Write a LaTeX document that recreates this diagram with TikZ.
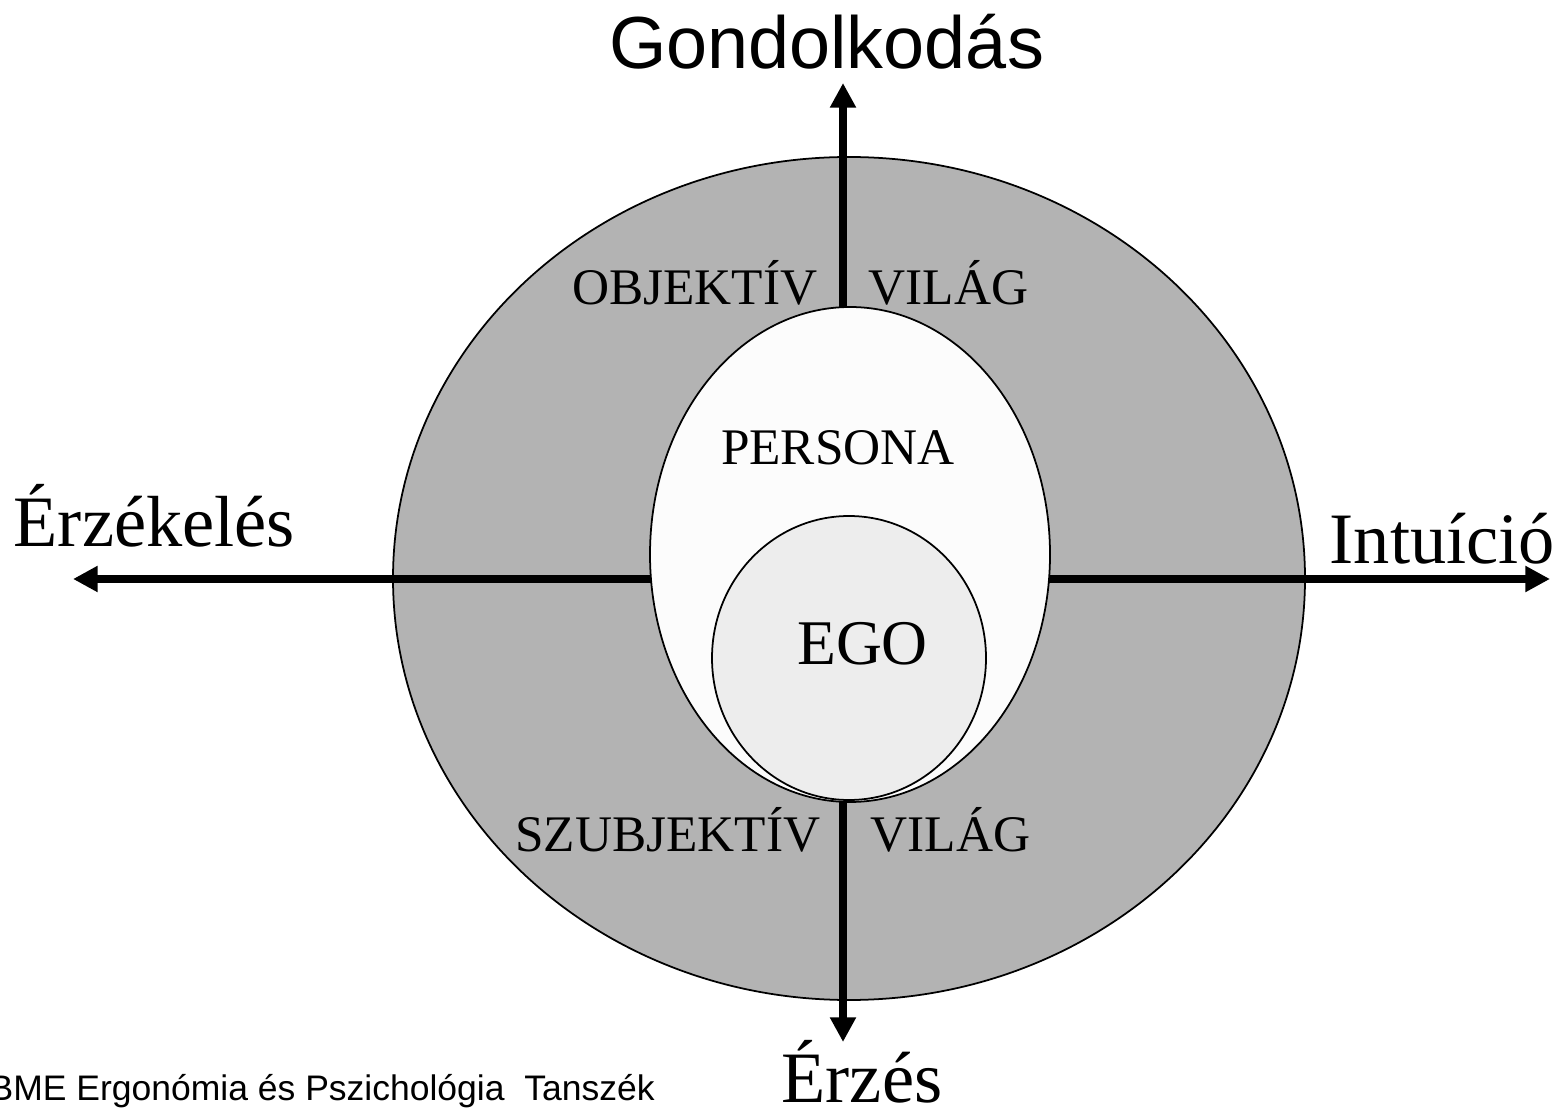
\documentclass[tikz,border=0pt]{standalone}
\usepackage{fontspec}
\setmainfont{Liberation Serif}
\newfontfamily\arialfont{Liberation Sans}
\usetikzlibrary{shapes.geometric,arrows.meta}

\definecolor{worldgray}{RGB}{179,179,179}
\definecolor{personawhite}{RGB}{252,252,252}
\definecolor{egogray}{RGB}{237,237,237}

\tikzset{
  axis/.style={line width=2pt,{Triangle[length=7pt,width=7pt]}-{Triangle[length=7pt,width=7pt]}},
  shell/.style={ellipse,draw,line width=0.5pt,inner sep=0pt},
  caps/.style={font=\fontsize{14.6}{17}\selectfont,anchor=base,inner sep=0pt},
  big/.style={font=\fontsize{20.6}{24}\selectfont,anchor=base,inner sep=0pt},
  bigsans/.style={font=\arialfont\fontsize{21}{25}\selectfont,anchor=base,inner sep=0pt},
}

\begin{document}
\begin{tikzpicture}
\useasboundingbox (0,0) rectangle (15.59,-11.15);
% outer world
\node[shell,fill=worldgray,minimum width=9.12cm,minimum height=8.43cm] (world) at (8.49,-5.785) {};
% axes
\coordinate (gtip) at (8.43,-0.83);
\coordinate (etip) at (8.43,-10.42);
\coordinate (ltip) at (0.73,-5.79);
\coordinate (rtip) at (15.50,-5.79);
\draw[axis] (ltip) -- (rtip);
\draw[axis] (etip) -- (gtip);
% persona and ego
\node[shell,fill=personawhite,minimum width=4.0cm,minimum height=4.95cm] (persona) at (8.50,-5.545) {};
\node[shell,fill=egogray,minimum width=2.74cm,minimum height=2.84cm] (ego) at (8.49,-6.58) {};
% labels
\node[bigsans] (gond) at (8.265,-0.69) {Gondolkodás};
\node[big,anchor=base west] (erzek) at (0.13,-5.47) {Érzékelés};
\node[big,anchor=base west] (intu) at (13.29,-5.64) {Intuíció};
\node[big] (erzes) at (8.62,-11.02) {Érzés};
\node[caps,anchor=base east] (objekt) at (8.18,-3.05) {OBJEKTÍV};
\node[caps,anchor=base west] (vilag1) at (8.68,-3.05) {VILÁG};
\node[caps,anchor=base east] (szubj) at (8.21,-8.51) {SZUBJEKTÍV};
\node[caps,anchor=base west] (vilag2) at (8.70,-8.51) {VILÁG};
\node[caps] (perslabel) at (8.38,-4.65) {PERSONA};
\node[caps,font=\fontsize{18.1}{21}\selectfont] (egolabel) at (8.625,-6.65) {EGO};
\node[anchor=base west,inner sep=0pt,font=\arialfont\fontsize{10.1}{12}\selectfont] (bme) at (-0.11,-11.0) {BME Ergonómia és Pszichológia\ \ Tanszék};
\end{tikzpicture}
\end{document}
